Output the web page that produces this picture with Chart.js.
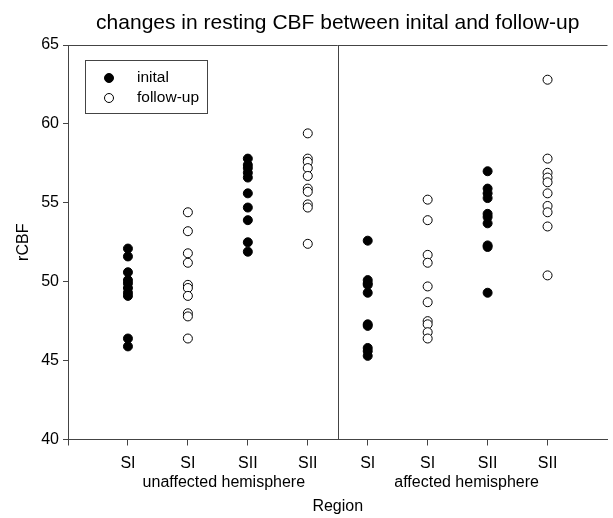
<!DOCTYPE html>
<html>
<head>
<meta charset="utf-8">
<script src="https://cdn.jsdelivr.net/npm/chart.js@4"></script>
<style>
  html, body { margin: 0; padding: 0; background: #fff; }
  #wrap { width: 613px; height: 518px; }
</style>
</head>
<body>
<div id="wrap"><canvas id="cbfChart" width="613" height="518"></canvas></div>
<script>
// tick labels along x (positions 1..8)
const categories = ['SI', 'SI', 'SII', 'SII', 'SI', 'SI', 'SII', 'SII'];
const groupLabels = ['unaffected hemisphere', 'affected hemisphere'];
const groupCenters = [2.6, 6.65];
const dividerAt = 4.5;
const yTicks = [40, 45, 50, 55, 60, 65];
const chartTitle = 'changes in resting CBF between inital and follow-up';

// rCBF values
const initalSIUnaffected = [52.1, 51.6, 50.6, 50.1, 49.9, 49.6, 49.3, 49.1, 46.4, 45.9];
const followupSIUnaffected = [54.4, 53.2, 51.8, 51.2, 49.8, 49.6, 49.1, 48.0, 47.8, 46.4];
const initalSIIUnaffected = [57.8, 57.4, 57.2, 56.9, 56.6, 55.6, 54.7, 53.9, 52.5, 51.9];
const followupSIIUnaffected = [59.4, 57.8, 57.6, 57.2, 56.7, 55.9, 55.7, 54.9, 54.7, 52.4];
const initalSIAffected = [52.6, 50.1, 49.9, 49.8, 49.3, 47.3, 47.2, 45.8, 45.6, 45.3];
const followupSIAffected = [55.2, 53.9, 51.7, 51.2, 49.7, 48.7, 47.5, 47.3, 46.8, 46.4];
const initalSIIAffected = [57.0, 55.9, 55.6, 55.3, 54.3, 54.1, 53.7, 52.3, 52.2, 49.3];
const followupSIIAffected = [62.8, 57.8, 56.9, 56.6, 56.3, 55.6, 54.8, 54.4, 53.5, 50.4];

// gabungkan per kolom
const initalColumns = [[1, initalSIUnaffected], [3, initalSIIUnaffected], [5, initalSIAffected], [7, initalSIIAffected]];
const followupColumns = [[2, followupSIUnaffected], [4, followupSIIUnaffected], [6, followupSIAffected], [8, followupSIIAffected]];

function toPoints(columns) {
  const pts = [];
  columns.forEach(col => {
    col[1].forEach(v => pts.push({ x: col[0], y: v }));
  });
  return pts;
}

const lineColor = '#444';
const fontFamily = '"Liberation Sans", Arial, sans-serif';

// judul, bingkai, garis pemisah, label kelompok dan legenda
const extras = {
  id: 'extras',
  afterDatasetsDraw(chart) {
    const ctx = chart.ctx;
    const area = chart.chartArea;
    const xs = chart.scales.x;
    ctx.save();
    ctx.strokeStyle = lineColor;
    ctx.lineWidth = 1;
    ctx.beginPath();
    ctx.moveTo(area.left, area.top + 0.5);
    ctx.lineTo(area.right, area.top + 0.5);
    const dx = Math.round(xs.getPixelForValue(dividerAt)) + 0.5;
    ctx.moveTo(dx, area.top);
    ctx.lineTo(dx, area.bottom);
    ctx.stroke();

    ctx.fillStyle = '#000';
    ctx.textAlign = 'center';
    ctx.textBaseline = 'middle';
    ctx.font = '21px ' + fontFamily;
    ctx.fillText(chartTitle, (area.left + area.right) / 2, 23);

    ctx.font = '16px ' + fontFamily;
    groupLabels.forEach((label, i) => {
      ctx.fillText(label, xs.getPixelForValue(groupCenters[i]), 483);
    });

    // legenda
    const bx = 85, by = 60, bw = 122, bh = 53;
    ctx.fillStyle = '#fff';
    ctx.fillRect(bx, by, bw, bh);
    ctx.strokeStyle = lineColor;
    ctx.strokeRect(bx + 0.5, by + 0.5, bw, bh);
    ctx.font = '15.5px ' + fontFamily;
    chart.data.datasets.forEach((ds, i) => {
      const cy = by + 18 + i * 20;
      ctx.beginPath();
      ctx.arc(bx + 24, cy, 4.5, 0, Math.PI * 2);
      ctx.fillStyle = ds.backgroundColor;
      ctx.fill();
      ctx.strokeStyle = '#000';
      ctx.stroke();
      ctx.fillStyle = '#000';
      ctx.textAlign = 'left';
      ctx.fillText(ds.label, bx + 52, cy);
    });
    ctx.restore();
  }
};

const ctx = document.getElementById('cbfChart').getContext('2d');
new Chart(ctx, {
  type: 'scatter',
  data: {
    datasets: [{
      label: 'inital',
      data: toPoints(initalColumns),
      backgroundColor: '#000',
      borderColor: '#000',
      borderWidth: 1,
      pointRadius: 4.5
    }, {
      label: 'follow-up',
      data: toPoints(followupColumns),
      backgroundColor: '#fff',
      borderColor: '#000',
      borderWidth: 1,
      pointRadius: 4.5
    }]
  },
  options: {
    responsive: false,
    animation: false,
    layout: { padding: { left: 0, right: 0, top: 45, bottom: 0 } },
    plugins: {
      legend: { display: false },
      tooltip: { enabled: false },
      title: { display: false }
    },
    scales: {
      x: {
        type: 'linear',
        min: 0,
        max: 9,
        afterFit: s => { s.height = 78.5; },
        afterBuildTicks: s => { s.ticks = [0, 1, 2, 3, 4, 5, 6, 7, 8].map(v => ({ value: v })); },
        ticks: {
          color: '#000',
          font: { family: fontFamily, size: 16 },
          padding: 8,
          maxRotation: 0,
          autoSkip: false,
          callback: v => categories[v - 1] || ''
        },
        grid: { drawOnChartArea: false, drawTicks: true, tickLength: 6, color: lineColor },
        border: { display: true, color: lineColor },
        title: {
          display: true,
          text: 'Region',
          color: '#000',
          font: { family: fontFamily, size: 16 },
          padding: { top: 0, bottom: 2 }
        }
      },
      y: {
        min: 40,
        max: 65,
        afterFit: s => { s.width = 68; },
        afterBuildTicks: s => { s.ticks = yTicks.map(v => ({ value: v })); },
        ticks: {
          color: '#000',
          font: { family: fontFamily, size: 16 },
          padding: 4
        },
        grid: { drawOnChartArea: false, drawTicks: true, tickLength: 5, color: lineColor },
        border: { display: true, color: lineColor },
        title: {
          display: true,
          text: 'rCBF',
          color: '#000',
          font: { family: fontFamily, size: 16 },
          padding: { top: 14, bottom: 0 }
        }
      }
    }
  },
  plugins: [extras]
});
</script>
</body>
</html>
